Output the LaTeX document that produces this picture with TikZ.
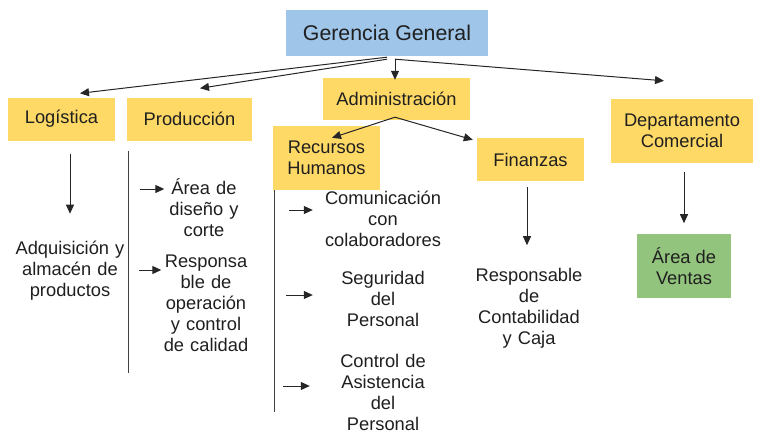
\documentclass[tikz,border=0pt]{standalone}
\usepackage{fontspec}
\setmainfont{Liberation Sans}
\usepackage{tikz}
\usetikzlibrary{arrows.meta}
\definecolor{unityellow}{HTML}{FFD966}
\definecolor{topblue}{HTML}{9FC5E8}
\definecolor{salesgreen}{HTML}{93C47D}

\begin{document}
\begin{tikzpicture}[
x=1pt, y=-1pt,
every node/.style={
    font=\fontsize{18.3}{21}\selectfont,
    text=black!88,
    align=center,
    inner sep=2pt
},
unit/.style={fill=unityellow, minimum width=107pt, minimum height=43pt},
task/.style={text width=#1},
link/.style={draw=black!85, line width=1pt, -{Triangle[length=9pt,width=8pt]}},
rule/.style={draw=black!75, line width=1pt}
]
\useasboundingbox (0,0) rectangle (761,447);

\node[fill=topblue, minimum width=202pt, minimum height=46pt,
    font=\fontsize{21.3}{25}\selectfont] (gerencia) at (387,33) {Gerencia General};
\node[unit] (logistica) at (61.5,119) {Logística};
\node[unit, minimum width=125pt] (produccion) at (189.5,119) {Producción};
\node[unit, minimum width=147pt, minimum height=42pt] (admin) at (396.5,99) {Administración};
\node[unit, minimum height=64pt] (rrhh) at (326.5,158) {Recursos\\Humanos};
\node[unit] (finanzas) at (530.5,159.5) {Finanzas};
\node[unit, minimum width=142pt, minimum height=64pt] (comercial) at (682,131) {Departamento\\Comercial};
\node[fill=salesgreen, minimum width=94pt, minimum height=64pt] (ventas) at (684,266) {Área de\\Ventas};

\node[task=110pt] (adquisicion) at (70,271) {Adquisición y\\almacén de\\productos};
\node[task=75pt] (diseno) at (204,208) {Área de\\diseño y\\corte};
\node[task=85pt] (responsable) at (206,303) {Responsa\\ble de\\operación\\y control\\de calidad};
\node[task=120pt] (comunicacion) at (383,219) {Comunicación\\con\\colaboradores};
\node[task=120pt] (seguridad) at (383,299) {Seguridad\\del\\Personal};
\node[task=120pt] (asistencia) at (383,392) {Control de\\Asistencia\\del\\Personal};
\node[task=110pt] (contabilidad) at (529,308.5) {Responsable\\de\\Contabilidad\\y Caja};

% gerencia general
\draw[link] ([yshift=-1pt]gerencia.south) -- ([xshift=18.5pt,yshift=4pt]logistica.north);
\draw[link] ([yshift=-3pt]gerencia.south) -- ([xshift=10.5pt,yshift=9pt]produccion.north);
\draw[link] ([xshift=8pt,yshift=-3pt]gerencia.south) -- ([xshift=-1.5pt,yshift=-2pt]admin.north);
\draw[link] ([xshift=8pt,yshift=-3pt]gerencia.south) -- ([xshift=-18pt,yshift=18pt]comercial.north);

% administracion
\draw[link] ([xshift=-1.5pt,yshift=3pt]admin.south) -- ([xshift=5.5pt,yshift=-12pt]rrhh.north);
\draw[link] ([xshift=-1.5pt,yshift=3pt]admin.south) -- ([xshift=-4pt,yshift=-2pt]finanzas.north west);

% verticales
\draw[link] ([xshift=8.5pt,yshift=-13pt]logistica.south) -- ++(0,60);
\draw[rule] ([xshift=2pt,yshift=-10pt]produccion.south west) -- ++(0,222);
\draw[rule] ([xshift=2pt]rrhh.south west) -- ++(0,222);
\draw[link] ([xshift=-3.5pt,yshift=-6pt]finanzas.south) -- ++(0,58);
\draw[link] ([xshift=2pt,yshift=-9pt]comercial.south) -- ++(0,51);

% flechas cortas
\coordinate (d1) at (140,189);
\coordinate (d2) at (139,270);
\coordinate (c1) at (289,210);
\coordinate (c2) at (286,295);
\coordinate (c3) at (283,386);
\draw[link] (d1) -- (d1 -| diseno.west);
\draw[link] (d2) -- (d2 -| responsable.west);
\draw[link, shorten >=8pt] (c1) -- (c1 -| comunicacion.west);
\draw[link, shorten >=8pt] (c2) -- (c2 -| seguridad.west);
\draw[link, shorten >=11pt] (c3) -- (c3 -| asistencia.west);
\end{tikzpicture}
\end{document}
